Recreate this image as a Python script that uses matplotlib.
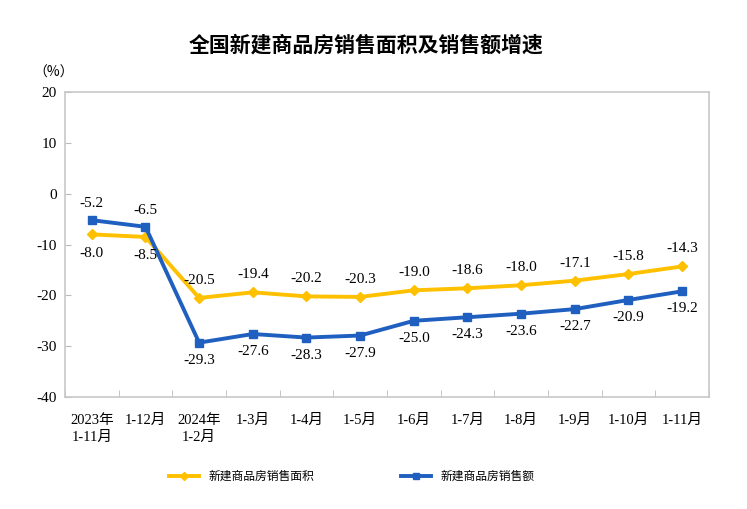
import matplotlib.pyplot as plt
import numpy as np

plt.rcParams['font.family'] = ['Liberation Serif', 'Noto Sans CJK SC']

categories = ['2023年\n1-11月', '1-12月', '2024年\n1-2月', '1-3月', '1-4月', '1-5月',
              '1-6月', '1-7月', '1-8月', '1-9月', '1-10月', '1-11月']
area = [-8.0, -8.5, -20.5, -19.4, -20.2, -20.3, -19.0, -18.6, -18.0, -17.1, -15.8, -14.3]
sales = [-5.2, -6.5, -29.3, -27.6, -28.3, -27.9, -25.0, -24.3, -23.6, -22.7, -20.9, -19.2]

yellow = '#FFC000'
blue = '#1F5FBF'

fig = plt.figure(figsize=(7.47, 5.09), dpi=100)
ax = fig.add_axes([0.087, 0.22, 0.862, 0.599])

x = np.arange(len(categories))
ax.plot(x, area, color=yellow, lw=2.8, marker='D', ms=5, label='新建商品房销售面积')
ax.plot(x, sales, color=blue, lw=2.8, marker='s', ms=5.5, label='新建商品房销售额')

for i, (a, s) in enumerate(zip(area, sales)):
    if i < 2:
        ax.annotate(f'{a:.1f}', (i, a), xytext=(0, -9), textcoords='offset points',
                    ha='center', va='top', fontsize=11)
        ax.annotate(f'{s:.1f}', (i, s), xytext=(0, 7), textcoords='offset points',
                    ha='center', va='bottom', fontsize=11)
    else:
        ax.annotate(f'{a:.1f}', (i, a), xytext=(0, 8), textcoords='offset points',
                    ha='center', va='bottom', fontsize=11)
        ax.annotate(f'{s:.1f}', (i, s), xytext=(0, -8), textcoords='offset points',
                    ha='center', va='top', fontsize=11)

ax.set_xlim(-0.5, len(categories) - 0.5)
ax.set_ylim(-40, 20)
ax.set_yticks(np.arange(-40, 21, 10))
ax.set_yticklabels([str(v) for v in range(-40, 21, 10)], fontsize=11)
ax.set_xticks(x)
ax.set_xticklabels(categories, fontsize=10.5, va='top', linespacing=1.4)
ax.set_xticks(np.arange(-0.5, len(categories)), minor=True)
ax.tick_params(axis='x', which='major', length=0, pad=12)
ax.tick_params(axis='x', which='minor', direction='in', length=5, color='#bbbbbb')
ax.tick_params(axis='y', direction='in', length=4, color='#bbbbbb', pad=6)
for sp in ax.spines.values():
    sp.set_color('#c8c8c8')
    sp.set_linewidth(1.2)

fig.text(0.49, 0.912, '全国新建商品房销售面积及销售额增速', ha='center', va='center',
         fontsize=15, fontweight='bold', family='Noto Sans CJK SC')
fig.text(0.045, 0.857, '（%）', ha='left', va='center', fontsize=10,
         family='Noto Sans CJK SC')

leg = fig.legend(loc='center', bbox_to_anchor=(0.471, 0.063), ncol=2, frameon=False,
                 fontsize=8.5, columnspacing=7.4, handlelength=2.5, markerscale=0.8)

fig.savefig('out.png', dpi=100)
